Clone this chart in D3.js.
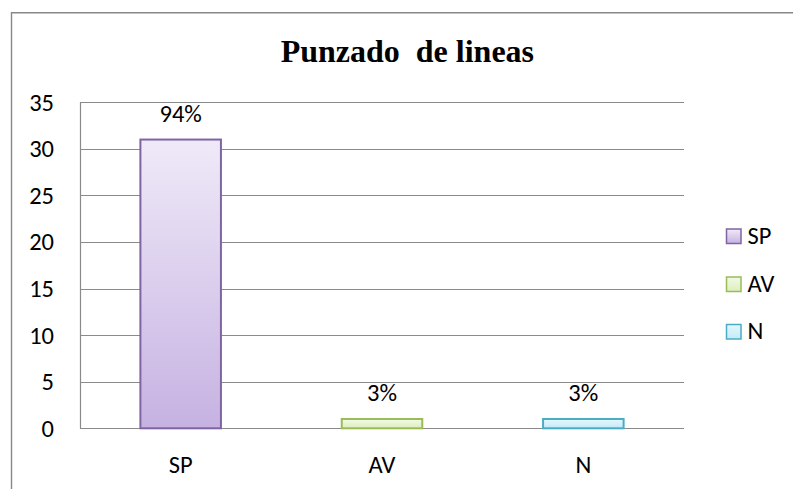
<!DOCTYPE html>
<html><head><meta charset="utf-8">
<script src="https://cdn.jsdelivr.net/npm/d3@7"></script>
<style>body{margin:0;background:#fff}svg{display:block}</style>
</head><body>
<script>
const categories = ["SP","AV","N"];
const values = [31,1,1];
const labels = ["94%","3%","3%"];
const yTicks = [0,5,10,15,20,25,30,35];
const title = "Punzado  de lineas";
const strokes = ["#8064a2","#9bbb59","#4bacc6"];
const fillTop = ["#efeaf8","#f2f9e6","#e6f7fc"];
const fillBot = ["#c6b2e2","#dcefbd","#c3ebf8"];

const W=793,H=489;
const svg=d3.select("body").append("svg").attr("width",W).attr("height",H);
const font="Carlito, Calibri, Lato, sans-serif";
const fs=24.5;
const defs=svg.append("defs");
categories.forEach((c,i)=>{
  const g=defs.append("linearGradient").attr("id","g"+i).attr("x1",0).attr("y1",0).attr("x2",0).attr("y2",1);
  g.append("stop").attr("offset","0%").attr("stop-color",fillTop[i]);
  g.append("stop").attr("offset","100%").attr("stop-color",fillBot[i]);
});
// frame
svg.append("path").attr("d",`M11.5,${H+2}V12.7H${W+2}`).attr("fill","none").attr("stroke","#888").attr("stroke-width",1.4);

const L=80,R=684,T=102.3,B=428.3;
const x=d3.scaleBand().domain(categories).range([L,R]);
const y=d3.scaleLinear().domain([0,35]).range([B,T]);

// gridlines
svg.append("g").selectAll("line").data(yTicks).join("line")
  .attr("x1",L).attr("x2",R).attr("y1",d=>Math.round(y(d))+0.5).attr("y2",d=>Math.round(y(d))+0.5)
  .attr("stroke","#8a8a8a").attr("stroke-width",1.2);
svg.append("line").attr("x1",L+0.5).attr("x2",L+0.5).attr("y1",T).attr("y2",B+0.5).attr("stroke","#8a8a8a").attr("stroke-width",1.2);

// y labels
svg.append("g").selectAll("text").data(yTicks).join("text")
  .attr("x",54).attr("y",d=>y(d)+8.4).attr("text-anchor","end")
  .attr("font-family",font).attr("font-size",fs).attr("fill","#000").text(d=>d);

// bars
const bw=x.bandwidth()*0.40;
svg.append("g").selectAll("rect").data(values).join("rect")
  .attr("x",(d,i)=>x(categories[i])+x.bandwidth()/2-bw/2)
  .attr("y",d=>y(d)).attr("width",bw).attr("height",d=>B-y(d))
  .attr("fill",(d,i)=>`url(#g${i})`).attr("stroke",(d,i)=>strokes[i]).attr("stroke-width",2);

// data labels
svg.append("g").selectAll("text").data(values).join("text")
  .attr("x",(d,i)=>x(categories[i])+x.bandwidth()/2).attr("y",d=>y(d)-17.5)
  .attr("text-anchor","middle").attr("font-family",font).attr("font-size",fs).text((d,i)=>labels[i]);

// category labels
svg.append("g").selectAll("text").data(categories).join("text")
  .attr("x",d=>x(d)+x.bandwidth()/2).attr("y",472.5)
  .attr("text-anchor","middle").attr("font-family",font).attr("font-size",fs).text(d=>d);

// title
svg.append("text").attr("x",(281.7+533)/2).attr("y",62).attr("text-anchor","middle")
  .attr("font-family","'Liberation Serif','Times New Roman',serif").attr("font-weight","bold")
  .attr("font-size",32).style("white-space","pre").text(title);

// legend
const lg=svg.append("g");
const ly=[236,284,331.5];
categories.forEach((c,i)=>{
  lg.append("rect").attr("x",726.5).attr("y",ly[i]-7).attr("width",14.5).attr("height",14.5)
    .attr("fill",`url(#g${i})`).attr("stroke",strokes[i]).attr("stroke-width",1.5);
  lg.append("text").attr("x",747.5).attr("y",ly[i]+7.8).attr("font-family",font).attr("font-size",fs).text(c);
});
</script>
</body></html>
